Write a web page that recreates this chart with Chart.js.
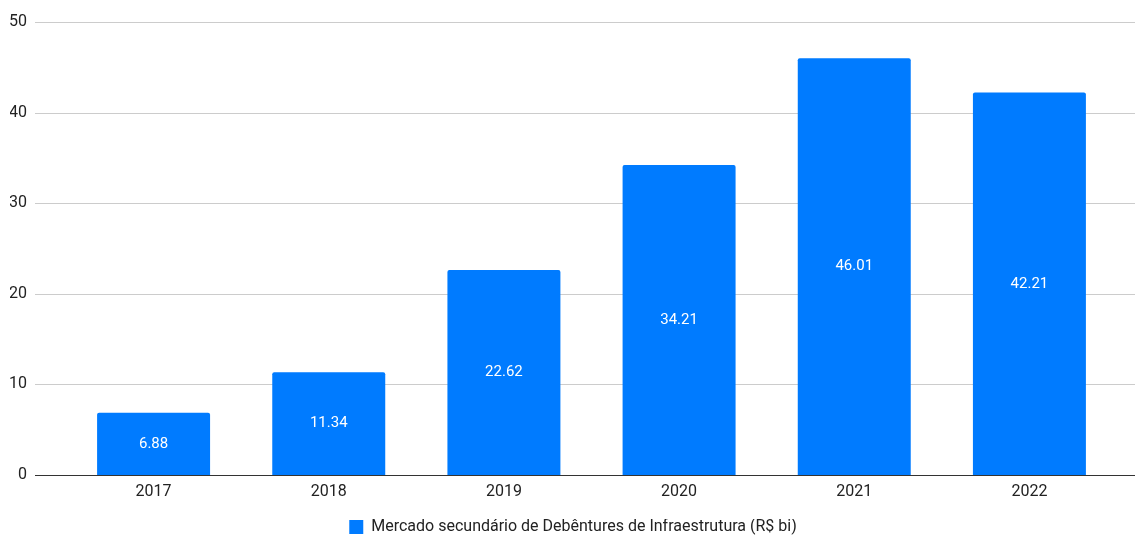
<!DOCTYPE html>
<html>
<head>
<meta charset="utf-8">
<script src="https://cdn.jsdelivr.net/npm/chart.js@4.4.1/dist/chart.umd.min.js"></script>
<style>
  html, body { margin: 0; padding: 0; background: #fff; }
  #wrap { width: 1136px; height: 535px; }
</style>
</head>
<body>
<div id="wrap"><canvas id="grafico"></canvas></div>
<script>
// dados do grafico
const anos = ['2017', '2018', '2019', '2020', '2021', '2022'];
const volumes = [6.88, 11.34, 22.62, 34.21, 46.01, 42.21];
const serieNome = 'Mercado secundário de Debêntures de Infraestrutura (R$ bi)';

const AZUL = '#007bff';

// linhas de grade mais largas que a area das barras (estilo Google Charts)
const gradePlugin = {
  id: 'grade',
  beforeDatasetsDraw(chart) {
    const { ctx, chartArea, scales } = chart;
    const y = scales.y;
    const x0 = chartArea.left - 31, x1 = chartArea.right + 18;
    ctx.save();
    ctx.strokeStyle = '#cccccc';
    ctx.lineWidth = 1;
    y.ticks.forEach(t => {
      if (t.value === 0) return;
      const py = Math.round(y.getPixelForValue(t.value)) + 0.5;
      ctx.beginPath(); ctx.moveTo(x0, py); ctx.lineTo(x1, py); ctx.stroke();
    });
    ctx.restore();
  },
  afterDatasetsDraw(chart) {
    const { ctx, chartArea, scales } = chart;
    const py = Math.round(scales.y.getPixelForValue(0)) + 0.5;
    ctx.save();
    ctx.strokeStyle = '#333333';
    ctx.lineWidth = 1;
    ctx.beginPath(); ctx.moveTo(chartArea.left - 31, py); ctx.lineTo(chartArea.right + 18, py); ctx.stroke();

    // rotulos dentro das barras
    const meta = chart.getDatasetMeta(0);
    ctx.fillStyle = '#ffffff';
    ctx.font = '15px Roboto';
    ctx.textAlign = 'center';
    ctx.textBaseline = 'middle';
    meta.data.forEach((bar, i) => {
      const cy = (bar.y + bar.base) / 2;
      ctx.fillText(volumes[i].toFixed(2), bar.x, cy);
    });
    ctx.restore();
  }
};

new Chart(document.getElementById('grafico'), {
  type: 'bar',
  data: {
    labels: anos,
    datasets: [{
      label: serieNome,
      data: volumes,
      backgroundColor: AZUL,
      borderRadius: 2,
      borderSkipped: 'bottom',
      barPercentage: 0.645,
      categoryPercentage: 1
    }]
  },
  options: {
    responsive: true,
    maintainAspectRatio: false,
    animation: false,
    layout: { padding: { top: 22, right: 0, left: 10, bottom: -10 } },
    plugins: {
      tooltip: { enabled: false },
      legend: {
        position: 'bottom',
        labels: {
          boxWidth: 14, boxHeight: 14, padding: 0,
          color: '#222', font: { family: 'Roboto', size: 16 }
        }
      }
    },
    scales: {
      x: {
        afterFit(s) { s.height = 44; },
        grid: { display: false, drawTicks: false },
        border: { display: false },
        ticks: { color: '#222', padding: 7, font: { family: 'Roboto', size: 16 } }
      },
      y: {
        min: 0, max: 50,
        afterFit(s) {
          s.width = 56;
          // o padding grande dos rotulos nao deve empurrar a area do grafico
          s.paddingTop = 0;
          s.paddingBottom = 0;
        },
        grid: { display: false, drawTicks: false },
        border: { display: false },
        ticks: { stepSize: 10, color: '#222', padding: 39, font: { family: 'Roboto', size: 16 } }
      },
      // eixo vazio a direita so para reservar a margem
      margemDir: {
        type: 'linear',
        position: 'right',
        min: 0, max: 50,
        afterFit(s) { s.width = 19; s.paddingTop = 0; s.paddingBottom = 0; },
        grid: { display: false, drawTicks: false },
        border: { display: false },
        ticks: { display: false }
      }
    }
  },
  plugins: [gradePlugin]
});
</script>
</body>
</html>
